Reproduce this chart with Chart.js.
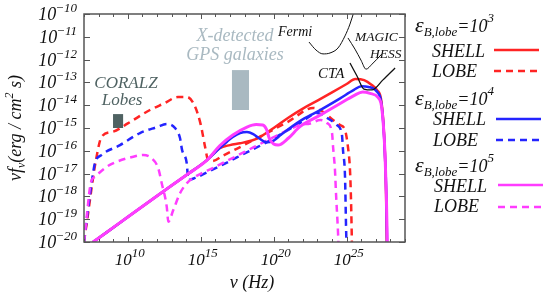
<!DOCTYPE html>
<html><head><meta charset="utf-8">
<script src="https://cdn.jsdelivr.net/npm/chart.js@4.4.0/dist/chart.umd.min.js"></script>
<style>html,body{margin:0;padding:0;background:#fff;}#wrap{position:relative;width:545px;height:295px;}</style>
</head><body><div id="wrap"><canvas id="c" width="545" height="295"></canvas></div>
<script>
// ---- data (log10 of nu [Hz] and log10 of nu*f_nu [erg/cm^2/s]) ----
const xTickExps = [10, 15, 20, 25];
const yTickExps = [-10, -11, -12, -13, -14, -15, -16, -17, -18, -19, -20];
const legendExps = ['3', '4', '5'];

const shell3Nu = [7.62, 8.5, 10, 12, 14, 15.43, 16.3, 17.0, 17.7, 18.5, 19.0, 20.0, 21.0, 22.0, 23.0, 24.0, 25.0, 25.6, 26.2, 26.7, 27.1, 27.35, 27.5, 27.62, 27.7, 27.76];
const shell3F  = [-20, -19.6, -18.9, -17.98, -17.07, -16.41, -15.89, -15.75, -15.67, -15.55, -15.42, -15.0, -14.55, -14.15, -13.8, -13.44, -13.07, -12.85, -12.9, -13.1, -13.35, -13.7, -14.6, -16.0, -17.8, -20.5];

const shell4Nu = [7.62, 8.5, 10, 12, 14, 15.43, 16.3, 16.8, 17.2, 17.7, 18.17, 18.6, 19.0, 19.5, 20.0, 20.5, 21.8, 23.0, 24.5, 25.5, 26.0, 26.5, 27.1, 27.35, 27.5, 27.62, 27.72, 27.78];
const shell4F  = [-20, -19.6, -18.9, -17.98, -17.07, -16.41, -15.88, -15.6, -15.39, -15.22, -15.18, -15.27, -15.45, -15.63, -15.55, -15.3, -14.7, -14.28, -13.72, -13.33, -13.17, -13.2, -13.42, -13.8, -14.7, -16.1, -18.0, -20.5];

const shell5Nu = [7.62, 8.5, 10, 12, 14, 15.43, 16.3, 17.2, 18.17, 18.8, 19.25, 19.5, 19.7, 20.0, 20.3, 21.0, 21.8, 23.0, 24.5, 25.5, 26.1, 26.6, 27.15, 27.38, 27.52, 27.64, 27.73, 27.8];
const shell5F  = [-20, -19.6, -18.9, -17.98, -17.07, -16.41, -15.78, -15.31, -14.96, -14.85, -14.87, -15.05, -15.45, -15.7, -15.75, -15.45, -14.94, -14.5, -13.95, -13.58, -13.42, -13.48, -13.66, -14.0, -14.9, -16.3, -18.2, -20.5];

const lobe3Nu = [7.0, 7.27, 7.55, 7.82, 8.21, 9.0, 10.0, 11.52, 12.5, 13.44, 14.06, 14.6, 15.0, 15.3, 15.5, 15.8, 16.5, 17.5, 19.0, 21.0, 22.7, 23.4, 24.07, 24.55, 24.89, 25.09, 25.23, 25.3, 25.37];
const lobe3F  = [-20, -18.8, -17.5, -16.4, -15.38, -15.16, -14.8, -14.21, -13.92, -13.64, -13.64, -14.05, -14.85, -15.83, -16.4, -16.45, -16.22, -15.9, -15.4, -14.72, -14.12, -14.3, -14.65, -14.87, -15.09, -15.83, -16.84, -18.16, -20.3];

const lobe4Nu = [7.0, 7.27, 7.55, 7.75, 8.21, 9.47, 10.84, 12.0, 12.69, 13.24, 13.58, 13.72, 14.04, 14.15, 14.61, 15.84, 17.0, 17.9, 19.54, 21.0, 22.0, 22.97, 23.66, 24.34, 24.68, 24.75, 24.89, 24.96, 25.0];
const lobe4F  = [-20, -18.6, -17.28, -16.54, -16.18, -15.75, -15.22, -14.96, -14.82, -15.0, -15.44, -15.96, -16.54, -17.28, -17.19, -16.82, -16.45, -16.15, -15.62, -15.08, -14.7, -14.34, -14.56, -14.87, -15.31, -15.96, -17.15, -19.35, -20.3];

const lobe5Nu = [7.0, 7.2, 7.41, 7.53, 7.75, 8.56, 9.24, 10.38, 11.06, 11.64, 12.09, 12.33, 12.67, 12.78, 13.12, 13.58, 14.04, 14.61, 16.0, 18.0, 20.0, 21.8, 22.5, 23.2, 23.66, 24.0, 24.07, 24.2, 24.27, 24.41, 24.45];
const lobe5F  = [-20, -18.8, -17.6, -17.28, -17.14, -16.7, -16.48, -16.26, -16.18, -16.33, -16.77, -17.43, -18.45, -19.11, -18.6, -17.86, -17.43, -17.14, -16.7, -16.05, -15.4, -14.87, -14.8, -14.65, -14.78, -15.22, -15.83, -16.84, -17.85, -19.6, -20.3];

const fermiNu = [22.42, 22.9, 23.38, 23.86, 24.41, 24.89, 25.23, 25.5];
const fermiF  = [-11.23, -11.58, -11.75, -11.71, -11.49, -10.96, -10.44, -9.9];
const magicNu = [25.09, 25.57, 25.98, 26.33, 26.74, 27.42];
const magicF  = [-11.05, -11.54, -12.02, -12.42, -12.2, -11.75];
const ctaNu   = [25.23, 25.71, 26.19, 26.74, 27.49, 28.32];
const ctaF    = [-12.15, -12.72, -13.29, -13.33, -12.89, -12.37];

const coralzNu = [8.99, 9.68];
const coralzF  = [-15.0, -14.39];
const gpsNu    = [17.14, 18.31];
const gpsF     = [-14.21, -12.46];

// ---- styling / build ----
const RED = '#ff2424', BLUE = '#2424ff', MAG = '#ff3cff';
const FONT = '"Liberation Serif", "Times New Roman", serif';
function pts(nu, f) { return nu.map((v, i) => ({ x: Math.pow(10, v), y: Math.pow(10, f[i]) })); }
function ds(nu, f, color, dashed, width, order) {
  return { data: pts(nu, f), borderColor: color, borderWidth: width, borderDash: dashed ? [7, 5] : [],
    pointRadius: 0, fill: false, cubicInterpolationMode: 'monotone', order: order, clip: 0 };
}
const datasets = [
  ds(fermiNu, fermiF, '#111', false, 1, 0),
  ds(magicNu, magicF, '#111', false, 1, 0),
  ds(ctaNu, ctaF, '#111', false, 1.3, 0),
  ds(shell5Nu, shell5F, MAG, false, 3, 1),
  ds(shell4Nu, shell4F, BLUE, false, 2.5, 2),
  ds(shell3Nu, shell3F, RED, false, 2.5, 3),
  ds(lobe5Nu, lobe5F, MAG, true, 2.5, 4),
  ds(lobe4Nu, lobe4F, BLUE, true, 2.5, 5),
  ds(lobe3Nu, lobe3F, RED, true, 2.5, 6)
];

function rich(ctx, parts, x, y, align) {
  let w = 0;
  for (const p of parts) { ctx.font = `italic ${p.s}px ${FONT}`; w += ctx.measureText(p.t).width + (p.gap || 0); }
  let cx = align === 'right' ? x - w : align === 'center' ? x - w / 2 : x;
  for (const p of parts) {
    ctx.font = `italic ${p.s}px ${FONT}`;
    ctx.fillText(p.t, cx, y + (p.dy || 0));
    cx += ctx.measureText(p.t).width + (p.gap || 0);
  }
}

const deco = {
  id: 'deco',
  beforeDatasetsDraw(chart) {
    const { ctx, scales: { x, y } } = chart;
    ctx.save();
    ctx.fillStyle = '#4f6262';
    let x0 = x.getPixelForValue(10 ** coralzNu[0]), x1 = x.getPixelForValue(10 ** coralzNu[1]);
    let y0 = y.getPixelForValue(10 ** coralzF[0]), y1 = y.getPixelForValue(10 ** coralzF[1]);
    ctx.fillRect(x0, y1, x1 - x0, y0 - y1);
    ctx.fillStyle = '#a9b9c1';
    x0 = x.getPixelForValue(10 ** gpsNu[0]); x1 = x.getPixelForValue(10 ** gpsNu[1]);
    y0 = y.getPixelForValue(10 ** gpsF[0]); y1 = y.getPixelForValue(10 ** gpsF[1]);
    ctx.fillRect(x0, y1, x1 - x0, y0 - y1);
    ctx.textBaseline = 'alphabetic';
    ctx.fillStyle = '#4f6262';
    rich(ctx, [{ t: 'CORALZ', s: 17 }], 126, 88, 'center');
    rich(ctx, [{ t: 'Lobes', s: 17 }], 122, 105, 'center');
    ctx.fillStyle = '#a9b9c1';
    rich(ctx, [{ t: 'X-detected', s: 18 }], 235, 41, 'center');
    rich(ctx, [{ t: 'GPS galaxies', s: 18 }], 235, 60, 'center');
    ctx.fillStyle = '#111';
    rich(ctx, [{ t: 'Fermi', s: 14 }], 278, 36, 'left');
    rich(ctx, [{ t: 'MAGIC', s: 13.5 }], 355, 41, 'left');
    rich(ctx, [{ t: 'HESS', s: 13.5 }], 370, 58, 'left');
    rich(ctx, [{ t: 'CTA', s: 15 }], 318, 78, 'left');
    ctx.restore();
  },
  afterDraw(chart) {
    const { ctx, chartArea: a, scales: { x, y } } = chart;
    ctx.save();
    ctx.strokeStyle = '#555'; ctx.lineWidth = 1.5;
    ctx.strokeRect(a.left, a.top, a.right - a.left, a.bottom - a.top);
    ctx.lineWidth = 1;
    for (let e = 7; e <= 29; e++) {
      const px = Math.round(x.getPixelForValue(10 ** e)) + 0.5;
      const len = e % 5 === 0 ? 5 : 3;
      ctx.beginPath();
      ctx.moveTo(px, a.bottom); ctx.lineTo(px, a.bottom - len);
      ctx.moveTo(px, a.top); ctx.lineTo(px, a.top + len);
      ctx.stroke();
    }
    for (let e = -20; e <= -10; e++) {
      const py = Math.round(y.getPixelForValue(10 ** e)) + 0.5;
      ctx.beginPath();
      ctx.moveTo(a.left, py); ctx.lineTo(a.left + 6, py);
      ctx.moveTo(a.right, py); ctx.lineTo(a.right - 6, py);
      ctx.stroke();
    }
    ctx.fillStyle = '#111'; ctx.textBaseline = 'alphabetic';
    for (const e of xTickExps) {
      const px = x.getPixelForValue(10 ** e);
      rich(ctx, [{ t: '10', s: 17 }, { t: String(e), s: 13, dy: -8 }], px + 2, 265, 'center');
    }
    for (const e of yTickExps) {
      const py = y.getPixelForValue(10 ** e);
      rich(ctx, [{ t: '10', s: 18, gap: -1 }, { t: '\u2212' + String(-e), s: 13, dy: -8 }], 77, py + 6, 'right');
    }
    rich(ctx, [{ t: '\u03bd', s: 18 }, { t: ' (Hz)', s: 18 }], 252, 288, 'center');
    ctx.save();
    ctx.translate(21, 128); ctx.rotate(-Math.PI / 2);
    rich(ctx, [{ t: '\u03bdf', s: 18 }, { t: '\u03bd', s: 12, dy: 4 }, { t: '(erg / cm', s: 18 }, { t: '2', s: 12, dy: -8 }, { t: ' s)', s: 18 }], 0, 0, 'center');
    ctx.restore();
    const groups = [
      { c: RED, hy: 32, sy: 57, ly: 77, sl: 50, ll: 71, lx: 494 },
      { c: BLUE, hy: 105, sy: 125, ly: 146, sl: 119, ll: 140, lx: 496 },
      { c: MAG, hy: 172, sy: 192, ly: 212, sl: 185, ll: 207, lx: 498 }
    ];
    groups.forEach((g, i) => {
      ctx.fillStyle = '#111';
      rich(ctx, [{ t: '\u03b5', s: 22 }, { t: 'B,lobe', s: 13, dy: 4 }, { t: '=10', s: 18 }, { t: legendExps[i], s: 13, dy: -10 }], 415, g.hy, 'left');
      rich(ctx, [{ t: 'SHELL', s: 18 }], 432 + i, g.sy, 'left');
      rich(ctx, [{ t: 'LOBE', s: 18 }], 432 + i, g.ly, 'left');
      ctx.strokeStyle = g.c; ctx.lineWidth = 2.5;
      ctx.setLineDash([]);
      ctx.beginPath(); ctx.moveTo(g.lx, g.sl); ctx.lineTo(g.lx + 45, g.sl); ctx.stroke();
      ctx.setLineDash([7, 5]);
      ctx.beginPath(); ctx.moveTo(g.lx, g.ll); ctx.lineTo(g.lx + 45, g.ll); ctx.stroke();
      ctx.setLineDash([]);
    });
    ctx.restore();
  }
};

new Chart(document.getElementById('c'), {
  type: 'line',
  data: { datasets: datasets },
  options: {
    responsive: false, animation: false, devicePixelRatio: 1,
    layout: { padding: { left: 84, top: 14, right: 140, bottom: 53 } },
    scales: {
      x: { type: 'logarithmic', min: 1e7, max: 1e29, display: false },
      y: { type: 'logarithmic', min: 1e-20, max: 1e-10, display: false }
    },
    plugins: { legend: { display: false }, tooltip: { enabled: false } }
  },
  plugins: [deco]
});
</script>
</body></html>
